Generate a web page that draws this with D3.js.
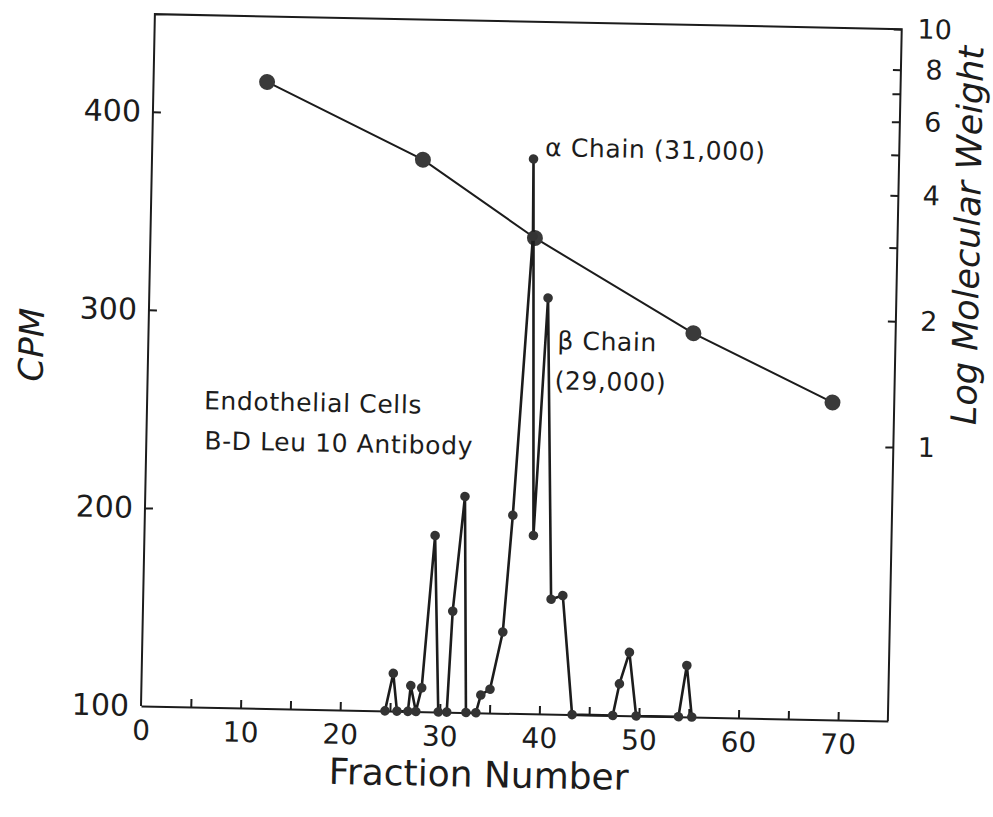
<!DOCTYPE html>
<html>
<head>
<meta charset="utf-8">
<script src="https://cdn.jsdelivr.net/npm/d3@7"></script>
<style>
    body { margin: 0; background: #fff; }
    text { font-family: "DejaVu Sans", sans-serif; fill: #1c1c1c; }
    .axis path, .axis line { stroke: #1c1c1c; stroke-width: 2; }
</style>
</head>
<body>
<div id="chart"></div>
<script>
// CPM profile (fraction number, counts per minute)
const fractions = [24.5, 25.26, 25.7, 26.8, 27.04, 27.6, 28.14, 29.18, 29.85, 30.7,
    31.1, 32.1, 32.63, 33.63, 34.09, 35.0, 36.17, 36.94, 38.4, 38.3,
    39.05, 40.04, 40.95, 42.12, 43.29, 47.37, 47.98, 48.92, 49.72, 53.97,
    54.71, 55.31];
const cpmValues = [100, 119, 100, 100, 113, 100, 112, 189, 100, 100,
    151, 209, 100, 100, 109, 112, 141, 200, 341, 380,
    190, 310, 158, 160, 100, 100, 116, 132, 100, 100,
    126, 100];

// molecular weight markers (x 10^4)
const mwFractions = [11.4, 27.2, 38.6, 54.7, 68.8];
const mwValues = [6.97, 4.62, 3.04, 1.83, 1.27];

// ticks
const xTicks = [0, 5, 10, 15, 20, 25, 30, 35, 40, 45, 50, 55, 60, 65, 70];
const xLabels = [0, 10, 20, 30, 40, 50, 60, 70];
const cpmTicks = [100, 200, 300, 400];
const mwTicks = [1, 2, 3, 4, 5, 6, 7, 8, 10];
const mwLabels = [1, 2, 4, 6, 8, 10];

const width = 993;
const height = 817;
const margin = {top: 14, left: 141, right: 105, bottom: 111};

const svg = d3.select("#chart")
    .append("svg")
    .attr("width", width)
    .attr("height", height);

// the scanned figure is tilted a little, so the whole plot is rotated
const g = svg.append("g")
    .attr("transform", `rotate(1.15, ${margin.left}, ${height - margin.bottom})`);

const xScale = d3.scaleLinear()
    .domain([0, 75])
    .range([margin.left, width - margin.right]);

const yScale = d3.scaleLinear()
    .domain([100, 400])
    .range([height - margin.bottom, 111.6]);

const mwScale = d3.scaleLog()
    .domain([1, 10])
    .range([432, margin.top]);

// frame (left, top, right)
g.append("path")
    .attr("d", `M${xScale(0)},${yScale(100)} V${margin.top} H${xScale(75)} V${yScale(100)}`)
    .attr("fill", "none")
    .attr("stroke", "#1c1c1c")
    .attr("stroke-width", 2);

// x axis
const xAxis = g.append("g")
    .attr("class", "axis")
    .attr("transform", `translate(0,${yScale(100)})`)
    .call(d3.axisBottom(xScale)
        .tickValues(xTicks)
        .tickSize(-8)
        .tickSizeOuter(0)
        .tickPadding(14)
        .tickFormat(d => xLabels.includes(d) ? d : ""));
xAxis.selectAll("text").attr("font-size", 28).attr("fill", "#1c1c1c");
xAxis.selectAll(".tick").filter(d => d === 0).select("line").remove();

// left axis
const yAxis = g.append("g")
    .attr("class", "axis")
    .attr("transform", `translate(${margin.left},0)`)
    .call(d3.axisLeft(yScale)
        .tickValues(cpmTicks)
        .tickSize(-8)
        .tickPadding(12));
yAxis.select(".domain").remove();
yAxis.selectAll("text").attr("font-size", 30).attr("fill", "#1c1c1c");
yAxis.selectAll(".tick").filter(d => d === 100).select("line").remove();

// right axis (log molecular weight)
const rAxis = g.append("g")
    .attr("class", "axis")
    .attr("transform", `translate(${xScale(75)},0)`)
    .call(d3.axisRight(mwScale)
        .tickValues(mwTicks)
        .tickSize(-8)
        .tickFormat(d => mwLabels.includes(d) ? d : ""));
rAxis.select(".domain").remove();
rAxis.selectAll("text")
    .attr("font-size", 27)
    .attr("fill", "#1c1c1c")
    .attr("text-anchor", "middle")
    .attr("x", 33);

// molecular weight line + markers
const mwData = mwFractions.map((f, i) => ({f: f, v: mwValues[i]}));

g.append("path")
    .datum(mwData)
    .attr("fill", "none")
    .attr("stroke", "#1c1c1c")
    .attr("stroke-width", 2)
    .attr("d", d3.line().x(d => xScale(d.f)).y(d => mwScale(d.v)));

g.selectAll("circle.mw")
    .data(mwData)
    .enter()
    .append("circle")
        .attr("class", "mw")
        .attr("cx", d => xScale(d.f))
        .attr("cy", d => mwScale(d.v))
        .attr("r", 8)
        .attr("fill", "#3a3a3a");

// CPM profile
const cpmData = fractions.map((f, i) => ({f: f, v: cpmValues[i]}));

g.append("path")
    .datum(cpmData)
    .attr("fill", "none")
    .attr("stroke", "#1c1c1c")
    .attr("stroke-width", 2.6)
    .attr("stroke-linejoin", "round")
    .attr("d", d3.line().x(d => xScale(d.f)).y(d => yScale(d.v)));

g.selectAll("circle.cpm")
    .data(cpmData)
    .enter()
    .append("circle")
        .attr("class", "cpm")
        .attr("cx", d => xScale(d.f))
        .attr("cy", d => yScale(d.v))
        .attr("r", 4.8)
        .attr("fill", "#333");

// axis titles
g.append("text")
    .attr("x", 480)
    .attr("y", 780)
    .attr("text-anchor", "middle")
    .attr("font-size", 36)
    .text("Fraction Number");

g.append("text")
    .attr("transform", "rotate(-90)")
    .attr("x", -347)
    .attr("y", 36)
    .attr("text-anchor", "middle")
    .attr("font-size", 34)
    .attr("font-style", "italic")
    .text("CPM");

g.append("text")
    .attr("transform", "rotate(-90)")
    .attr("x", -219)
    .attr("y", 970)
    .attr("text-anchor", "middle")
    .attr("font-size", 35)
    .attr("font-style", "italic")
    .text("Log Molecular Weight");

// annotations
const notes = g.append("g")
    .attr("font-size", 25)
    .style("white-space", "pre")
    .style("letter-spacing", "0.6px");

notes.append("text").attr("x", 534).attr("y", 148).text("α Chain  (31,000)");
notes.append("text").attr("x", 550).attr("y", 341).text("β Chain");
notes.append("text").attr("x", 548).attr("y", 381).text("(29,000)");
notes.append("text").attr("x", 198).attr("y", 408).text("Endothelial  Cells");
notes.append("text").attr("x", 199).attr("y", 448).text("B-D  Leu 10  Antibody");
</script>
</body>
</html>
